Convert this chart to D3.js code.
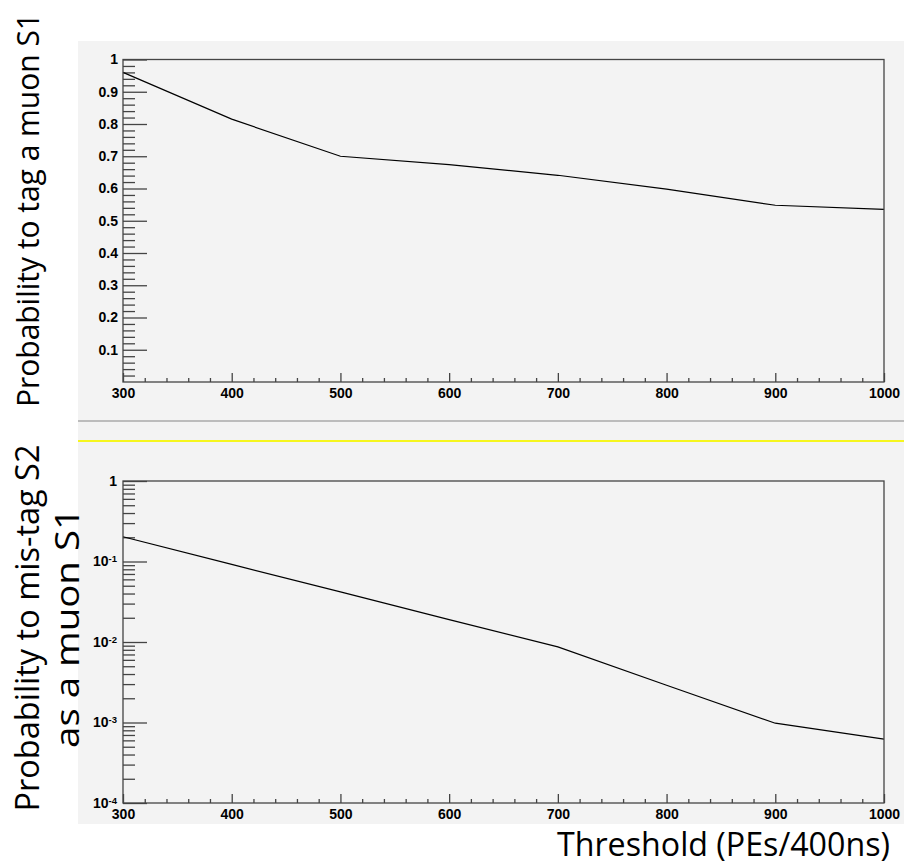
<!DOCTYPE html>
<html>
<head>
<meta charset="utf-8">
<script src="https://cdn.jsdelivr.net/npm/d3@7"></script>
<style>
  body { margin: 0; background: #fff; }
  .tick text { font-family: "Liberation Sans", Arial, sans-serif; font-weight: 700; font-size: 14px; fill: #000; }
  .title { font-family: "Open Sans", "Noto Sans", sans-serif; fill: #000; }
</style>
</head>
<body>
<svg id="chart" width="904" height="865"></svg>
<script>
// thresholds in PEs/400ns
const thresholds = [300, 400, 500, 600, 700, 800, 900, 1000];
// probability to tag a muon S1 (linear panel)
const tagProb = [0.96, 0.815, 0.70, 0.674, 0.641, 0.598, 0.548, 0.535];
// probability to mis-tag S2 as a muon S1 (log panel)
const misTagProb = [0.203, 0.092, 0.042, 0.019, 0.0087, 0.0029, 0.00098, 0.00062];

const xTickValues = [300, 400, 500, 600, 700, 800, 900, 1000];
const linTickValues = [0.1, 0.2, 0.3, 0.4, 0.5, 0.6, 0.7, 0.8, 0.9, 1];
const logTickValues = [1e-4, 1e-3, 1e-2, 1e-1, 1];

const svg = d3.select('#chart');
const frameColor = '#444';

// grey pad background
svg.append('rect')
  .attr('x', 78).attr('y', 41)
  .attr('width', 904 - 78).attr('height', 824 - 41)
  .attr('fill', '#f3f3f3');

// separators between the two pads
svg.append('line').attr('x1', 78).attr('x2', 904).attr('y1', 421).attr('y2', 421)
  .attr('stroke', '#aaa').attr('stroke-width', 1.6);
svg.append('line').attr('x1', 78).attr('x2', 904).attr('y1', 441).attr('y2', 441)
  .attr('stroke', '#f6f61e').attr('stroke-width', 1.8);

const x = d3.scaleLinear().domain([300, 1000]).range([123, 884]);
const xMinor = d3.range(300, 1001, 20).filter(v => v % 100 !== 0);

// each axis call gets its own group, otherwise the second call replaces the ticks
function axisGroup(transform, axis) {
  const g = svg.append('g').attr('transform', transform).call(axis);
  g.selectAll('.domain').remove();
  g.selectAll('.tick line').attr('stroke', frameColor).attr('stroke-width', 1.3);
  return g;
}

function drawXAxis(y0) {
  axisGroup(`translate(0,${y0})`, d3.axisBottom(x).tickValues(xMinor).tickSize(-4).tickFormat(''));
  axisGroup(`translate(0,${y0})`, d3.axisBottom(x).tickValues(xTickValues).tickSize(-9).tickPadding(6).tickFormat(d3.format('d')));
}

function drawFrame(y0, y1) {
  svg.append('rect')
    .attr('x', 123).attr('y', y0)
    .attr('width', 884 - 123).attr('height', y1 - y0)
    .attr('fill', 'none').attr('stroke', frameColor).attr('stroke-width', 1.3);
}

// ---- top pad: linear ----
const yTop = d3.scaleLinear().domain([0, 1]).range([382, 59.5]);
const linMinor = d3.range(0.02, 1, 0.02).filter(v => Math.abs(v * 10 - Math.round(v * 10)) > 1e-6);

axisGroup('translate(123,0)', d3.axisLeft(yTop).tickValues(linMinor).tickSize(-12).tickFormat(''));
axisGroup('translate(123,0)', d3.axisLeft(yTop).tickValues(linTickValues).tickSize(-24).tickPadding(5)
  .tickFormat(d => d === 1 ? '1' : d3.format('.1f')(d)));

drawXAxis(382);

svg.append('path')
  .datum(thresholds.map((t, i) => [t, tagProb[i]]))
  .attr('fill', 'none').attr('stroke', '#000').attr('stroke-width', 1.2)
  .attr('d', d3.line().x(d => x(d[0])).y(d => yTop(d[1])));

drawFrame(59.5, 382);

// ---- bottom pad: log ----
const yBot = d3.scaleLog().domain([1e-4, 1]).range([803, 481]);
const logMinor = [];
[1e-4, 1e-3, 1e-2, 1e-1].forEach(dec => d3.range(2, 10).forEach(m => logMinor.push(dec * m)));

axisGroup('translate(123,0)', d3.axisLeft(yBot).tickValues(logMinor).tickSize(-12).tickFormat(''));
const gBotY = axisGroup('translate(123,0)', d3.axisLeft(yBot).tickValues(logTickValues).tickSize(-24).tickPadding(6).tickFormat(''));
gBotY.selectAll('.tick text').each(function (d) {
  const t = d3.select(this);
  const e = Math.round(Math.log10(d));
  if (e === 0) { t.text('1'); return; }
  t.append('tspan').text('10');
  t.append('tspan').attr('dy', '-0.45em').style('font-size', '9.5px').text(String(e));
});

drawXAxis(803);

svg.append('path')
  .datum(thresholds.map((t, i) => [t, misTagProb[i]]))
  .attr('fill', 'none').attr('stroke', '#000').attr('stroke-width', 1.2)
  .attr('d', d3.line().x(d => x(d[0])).y(d => yBot(d[1])));

drawFrame(481, 803);

// ---- titles ----
svg.append('text').attr('class', 'title')
  .attr('transform', 'translate(39,210) rotate(-90)')
  .attr('text-anchor', 'middle').style('font-size', '31px')
  .attr('textLength', 394).attr('lengthAdjust', 'spacingAndGlyphs')
  .text('Probability to tag a muon S1');

svg.append('text').attr('class', 'title')
  .attr('transform', 'translate(39,628) rotate(-90)')
  .attr('text-anchor', 'middle').style('font-size', '33px')
  .attr('textLength', 367).attr('lengthAdjust', 'spacingAndGlyphs')
  .text('Probability to mis-tag S2');

svg.append('text').attr('class', 'title')
  .attr('transform', 'translate(79,628) rotate(-90)')
  .attr('text-anchor', 'middle').style('font-size', '33px')
  .attr('textLength', 240).attr('lengthAdjust', 'spacingAndGlyphs')
  .text('as a muon S1');

svg.append('text').attr('class', 'title')
  .attr('x', 890).attr('y', 856)
  .attr('text-anchor', 'end').style('font-size', '33px')
  .attr('textLength', 333).attr('lengthAdjust', 'spacingAndGlyphs')
  .text('Threshold (PEs/400ns)');
</script>
</body>
</html>
